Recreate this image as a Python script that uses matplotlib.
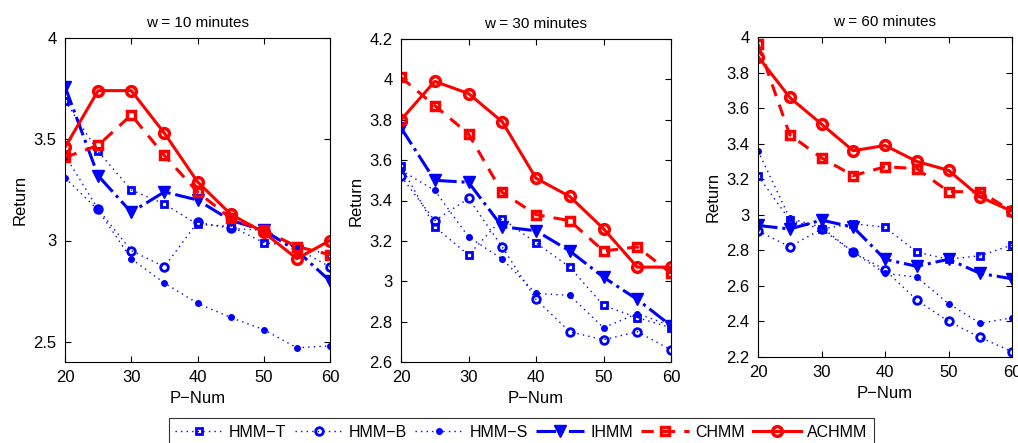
import matplotlib
matplotlib.use('Agg')
import matplotlib.pyplot as plt

plt.rcParams['font.family'] = ['Liberation Sans', 'DejaVu Sans']

p_num = [20, 25, 30, 35, 40, 45, 50, 55, 60]
titles = ['w = 10 minutes', 'w = 30 minutes', 'w = 60 minutes']
names = ['HMM\u2212T', 'HMM\u2212B', 'HMM\u2212S', 'IHMM', 'CHMM', 'ACHMM']

# w = 10 minutes
hmm_t_10 = [3.69, 3.44, 3.25, 3.18, 3.08, 3.07, 2.99, 2.97, 2.93]
hmm_b_10 = [3.42, 3.155, 2.95, 2.87, 3.09, 3.06, 3.05, 2.96, 2.87]
hmm_s_10 = [3.31, 3.15, 2.91, 2.79, 2.69, 2.62, 2.56, 2.47, 2.48]
ihmm_10 = [3.76, 3.32, 3.14, 3.24, 3.20, 3.10, 3.05, 2.95, 2.80]
chmm_10 = [3.41, 3.47, 3.62, 3.42, 3.24, 3.11, 3.05, 2.97, 2.93]
achmm_10 = [3.46, 3.74, 3.74, 3.53, 3.29, 3.13, 3.04, 2.91, 3.00]

# w = 30 minutes
hmm_t_30 = [3.57, 3.27, 3.13, 3.31, 3.19, 3.07, 2.88, 2.82, 2.77]
hmm_b_30 = [3.52, 3.30, 3.41, 3.17, 2.91, 2.75, 2.71, 2.75, 2.66]
hmm_s_30 = [3.55, 3.45, 3.22, 3.11, 2.94, 2.93, 2.77, 2.84, 2.78]
ihmm_30 = [3.76, 3.50, 3.49, 3.27, 3.25, 3.15, 3.02, 2.91, 2.78]
chmm_30 = [4.01, 3.87, 3.73, 3.44, 3.33, 3.30, 3.15, 3.17, 3.04]
achmm_30 = [3.80, 3.99, 3.93, 3.79, 3.51, 3.42, 3.26, 3.07, 3.07]

# w = 60 minutes
hmm_t_60 = [3.22, 2.97, 2.92, 2.95, 2.93, 2.79, 2.75, 2.77, 2.83]
hmm_b_60 = [2.91, 2.82, 2.92, 2.79, 2.69, 2.52, 2.40, 2.31, 2.23]
hmm_s_60 = [3.36, 2.98, 2.93, 2.79, 2.67, 2.65, 2.50, 2.39, 2.42]
ihmm_60 = [2.94, 2.92, 2.97, 2.93, 2.75, 2.71, 2.75, 2.67, 2.64]
chmm_60 = [3.96, 3.45, 3.32, 3.22, 3.27, 3.26, 3.13, 3.13, 3.02]
achmm_60 = [3.89, 3.66, 3.51, 3.36, 3.39, 3.30, 3.25, 3.10, 3.02]

panels = [
    [hmm_t_10, hmm_b_10, hmm_s_10, ihmm_10, chmm_10, achmm_10],
    [hmm_t_30, hmm_b_30, hmm_s_30, ihmm_30, chmm_30, achmm_30],
    [hmm_t_60, hmm_b_60, hmm_s_60, ihmm_60, chmm_60, achmm_60],
]
ylims = [(2.4, 4.0), (2.6, 4.2), (2.2, 4.0)]
yticks = [[2.5, 3, 3.5, 4], [2.6, 2.8, 3, 3.2, 3.4, 3.6, 3.8, 4, 4.2],
          [2.2, 2.4, 2.6, 2.8, 3, 3.2, 3.4, 3.6, 3.8, 4]]
ytick_labels = [['2.5', '3', '3.5', '4'],
                ['2.6', '2.8', '3', '3.2', '3.4', '3.6', '3.8', '4', '4.2'],
                ['2.2', '2.4', '2.6', '2.8', '3', '3.2', '3.4', '3.6', '3.8', '4']]

blue = '#0000ff'
red = '#ff0000'
styles = [
    dict(color=blue, ls=':', lw=1.0, dashes=(1, 3), marker='s', ms=4.5, mfc='none', mew=2),
    dict(color=blue, ls=':', lw=1.0, dashes=(1, 3), marker='o', ms=5.5, mfc='none', mew=2),
    dict(color=blue, ls=':', lw=1.0, dashes=(1, 3), marker='.', ms=8),
    dict(color=blue, ls='-.', lw=2.2, marker='v', ms=8),
    dict(color=red, ls='--', lw=2.2, marker='s', ms=6, mfc='none', mew=2.5, dashes=(4, 3)),
    dict(color=red, ls='-', lw=2.2, marker='o', ms=7, mfc='none', mew=2.5),
]

fig = plt.figure(figsize=(10.18, 4.43), dpi=100)
boxes = [(65, 38, 330, 362), (401, 39, 671, 362), (758, 37, 1012, 357)]
W, H = 1018, 443

lines = []
for i, (series, box) in enumerate(zip(panels, boxes)):
    x0, y0, x1, y1 = box
    ax = fig.add_axes([x0 / W, 1 - y1 / H, (x1 - x0) / W, (y1 - y0) / H])
    for vals, st, name in zip(series, styles, names):
        ln, = ax.plot(p_num, vals, label=name, **st)
        if i == 0:
            lines.append(ln)
    ax.set_xlim(20, 60)
    ax.set_ylim(*ylims[i])
    ax.set_xticks([20, 30, 40, 50, 60])
    ax.set_yticks(yticks[i])
    ax.set_yticklabels(ytick_labels[i])
    ax.tick_params(direction='in', labelsize=12, top=True, right=True, length=4, pad=6)
    ax.set_title(titles[i], fontsize=11, pad=8)
    ax.set_xlabel('P\u2212Num', fontsize=12, labelpad=4)
    ax.set_ylabel('Return', fontsize=12, labelpad=4)
    for sp in ax.spines.values():
        sp.set_linewidth(0.8)

leg = fig.legend(lines, names, loc='lower center', ncol=6, bbox_to_anchor=(0.512, -0.025),
                 fontsize=11.5, frameon=True, fancybox=False, edgecolor='black',
                 handlelength=3.0, columnspacing=0.5, handletextpad=0.4, borderpad=0.4)
leg.get_frame().set_linewidth(0.8)

fig.savefig('out.png', dpi=100)
